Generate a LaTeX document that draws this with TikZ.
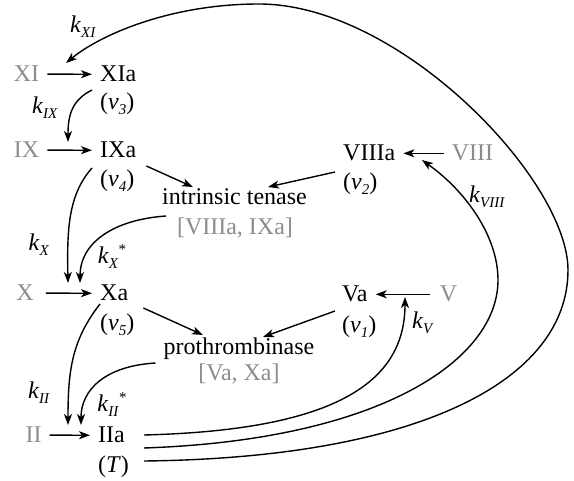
\documentclass[tikz,border=0pt]{standalone}
\usepackage{fontspec}
\setmainfont{Liberation Serif}
\usetikzlibrary{arrows.meta}
\definecolor{lg}{HTML}{8C8C8C}
\newcommand{\sbs}[1]{\raisebox{-5pt}{\fontsize{15}{15}\selectfont\textit{#1}}}
\newcommand{\sps}[1]{\raisebox{9pt}{\fontsize{15}{15}\selectfont #1}}
\newcommand{\kk}[1]{\textit{k}\sbs{#1}}
\newcommand{\kks}[1]{\textit{k}\sbs{#1}\sps{*}}
\newcommand{\vv}[1]{(\textit{v}\sbs{#1})}
\tikzset{
  lbl/.style={font=\fontsize{24}{28}\selectfont, inner sep=0pt, anchor=base},
  lblw/.style={lbl, anchor=base west},
  greytext/.style={text=lg},
  kl/.style={font=\fontsize{24}{28}\selectfont, inner sep=0pt, anchor=center},
  arr/.style={-{Stealth[length=11pt,width=8pt,inset=3pt]}, line width=1.4pt},
  harr/.style={arr, shorten <=8pt, shorten >=8pt},
  ln/.style={line width=1.4pt}
}
\begin{document}
\begin{tikzpicture}[x=1pt,y=-1pt]
\useasboundingbox (0,0) rectangle (574,481);
% left column
\node[lbl, greytext] (XI) at (26.5,82) {XI};
\node[lblw] (XIa) at (100,82) {XIa};
\node[lblw] (v3) at (100,110) {\vv{3}};
\node[lbl, greytext] (IX) at (26.5,158) {IX};
\node[lblw] (IXa) at (100,158) {IXa};
\node[lblw] (v4) at (100,187) {\vv{4}};
\node[lbl, greytext] (X) at (25,301) {X};
\node[lblw] (Xa) at (100,301) {Xa};
\node[lblw] (v5) at (100,331) {\vv{5}};
\node[lbl, greytext] (II) at (33.5,443) {II};
\node[lblw] (IIa) at (98,443) {IIa};
\node[lblw] (T) at (98,473) {(\textit{T})};
% complexes
\node[lbl] (ten) at (234.5,205) {intrinsic tenase};
\node[lbl, greytext] (tenc) at (235,235) {[VIIIa, IXa]};
\node[lbl] (pro) at (239,355) {prothrombinase};
\node[lbl, greytext] (proc) at (239,381) {[Va, Xa]};
% right column
\node[lblw] (VIIIa) at (343,161) {VIIIa};
\node[lbl, greytext] (VIII) at (472.5,161) {VIII};
\node[lblw] (v2) at (343,190) {\vv{2}};
\node[lblw] (Va) at (342,302) {Va};
\node[lbl, greytext] (V) at (448.5,302) {V};
\node[lblw] (v1) at (342,333) {\vv{1}};
% rate labels
\node[kl] (kXI) at (83,27) {\kk{XI}};
\node[kl] (kIX) at (45,108) {\kk{IX}};
\node[kl] (kX) at (39,245) {\kk{X}};
\node[kl] (kXs) at (112,257) {\kks{X}};
\node[kl] (kII) at (39,393) {\kk{II}};
\node[kl] (kIIs) at (112,405) {\kks{II}};
\node[kl] (kVIII) at (487,197) {\kk{VIII}};
\node[kl] (kV) at (423,323) {\kk{V}};
% catalysis targets on activation arrows
\coordinate (cXI) at (66,63);
\coordinate (cIX) at (68,142);
\coordinate (cXa1) at (68,283);
\coordinate (cXa2) at (80,283);
\coordinate (cII1) at (68,425);
\coordinate (cII2) at (81,425);
\coordinate (cVIII) at (422,160);
\coordinate (cV) at (405,297);
% activation arrows
\draw[harr] (XI) -- (XIa);
\draw[harr] (IX) -- (IXa);
\draw[harr, shorten <=12pt] (X) -- (Xa);
\draw[harr] (II) -- (IIa);
\draw[harr] (VIII) -- (VIIIa);
\draw[harr, shorten <=10pt] (V) -- (Va);
% complex formation
\draw[arr] ([shift={(10,8)}]IXa.base east) -- ([shift={(-41.5,-18)}]ten.base);
\draw[arr] ([shift={(-8,11)}]VIIIa.base west) -- ([shift={(33.5,-18)}]ten.base);
\draw[arr] ([shift={(15,7)}]Xa.base east) -- ([shift={(-36,-20)}]pro.base);
\draw[arr] ([shift={(-7,9)}]Va.base west) -- ([shift={(24,-18)}]pro.base);
% catalysis curves
\draw[arr] ([shift={(-8,8)}]XIa.base west) .. controls (72,100) and (68,115) .. (cIX);
\draw[arr] ([shift={(-8,10)}]IXa.base west) .. controls (68,195) and (67,230) .. (cXa1);
\draw[arr] ([shift={(4,11)}]ten.base west) .. controls (110,220) and (80,245) .. (cXa2);
\draw[arr] ([shift={(0,3)}]Xa.base west) .. controls (72,340) and (68,370) .. (cII1);
\draw[arr] ([shift={(-8,8)}]pro.base west) .. controls (105,366) and (81,390) .. (cII2);
% thrombin feedback
\draw[arr] ([shift={(19,-8)}]IIa.base east) .. controls (340,430) and (405,380) .. (cV);
\draw[arr] ([shift={(19,5)}]IIa.base east) .. controls (380,440) and (498,360) .. (498,280)
  .. controls (498,238) and (468,193) .. (cVIII);
\draw[arr] ([shift={(19,18)}]IIa.base east) .. controls (420,458) and (568,380) .. (568,270)
  .. controls (568,180) and (400,4) .. (259,4) .. controls (170,4) and (100,35) .. (cXI);
\end{tikzpicture}
\end{document}
